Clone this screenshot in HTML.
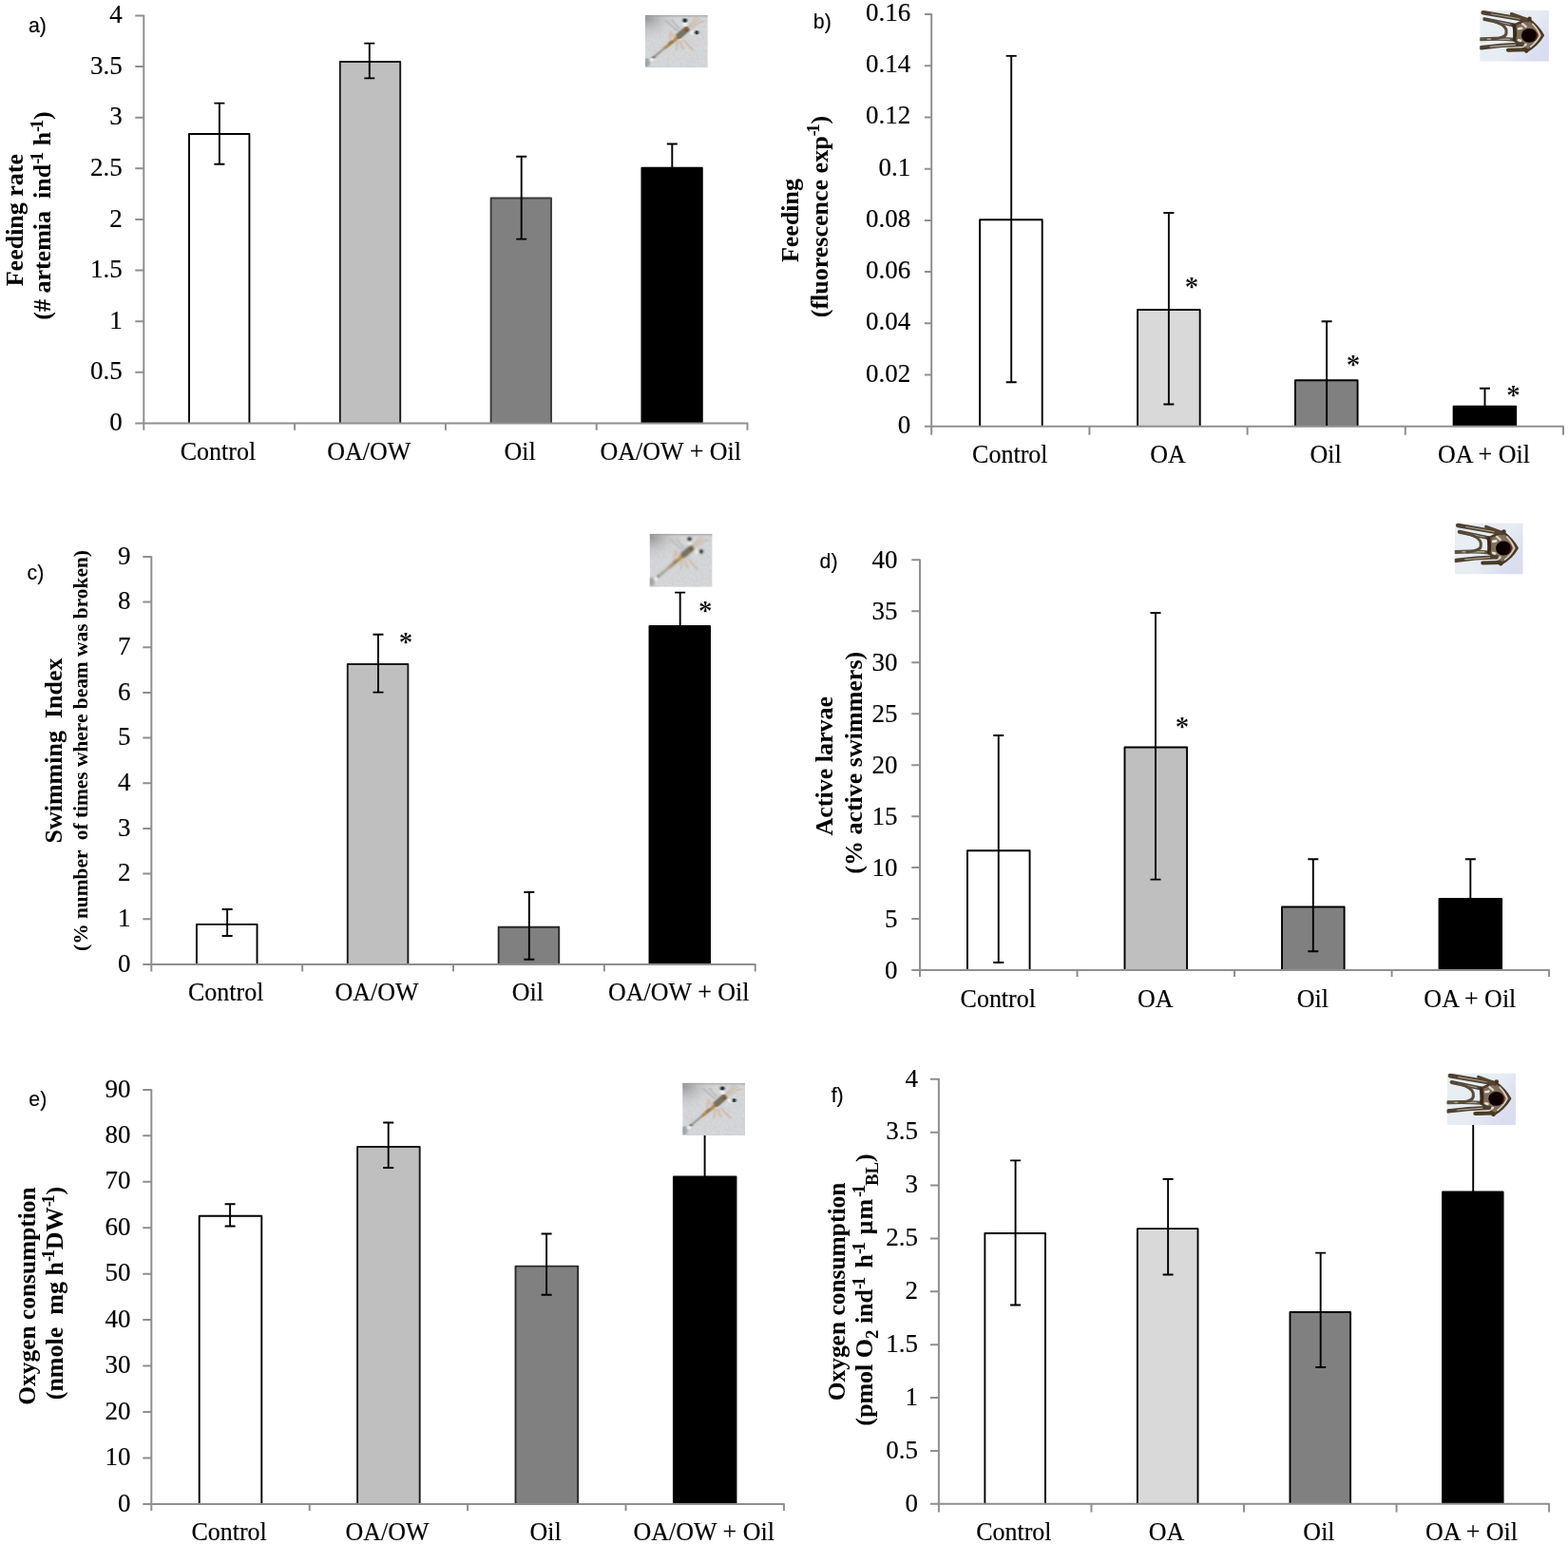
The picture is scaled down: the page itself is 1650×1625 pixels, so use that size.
<!DOCTYPE html>
<html lang="en">
<head>
<meta charset="utf-8">
<title>Figure: feeding, swimming and oxygen consumption</title>
<style>html,body{margin:0;padding:0;background:#fff}body{width:1650px;height:1625px;overflow:hidden}svg{display:block}text{white-space:pre;stroke:#000;stroke-width:0.16px;paint-order:stroke}</style>
</head>
<body>
<svg width="1650" height="1625" viewBox="0 0 1650 1625">
<defs>
<filter id="blur1" x="-10%" y="-10%" width="120%" height="120%"><feGaussianBlur stdDeviation="0.8"/></filter>
<filter id="blur2" x="-10%" y="-10%" width="120%" height="120%"><feGaussianBlur stdDeviation="0.75"/></filter>
<filter id="noise" x="0" y="0" width="100%" height="100%"><feTurbulence type="fractalNoise" baseFrequency="0.35" numOctaves="2" seed="7"/><feColorMatrix type="matrix" values="0 0 0 0 0.55  0 0 0 0 0.56  0 0 0 0 0.58  1.6 0 0 0 -0.55"/><feComposite operator="in" in2="SourceGraphic"/></filter>
<clipPath id="clipsh"><rect x="0" y="0" width="66" height="56"/></clipPath>
<clipPath id="clippl"><rect x="0" y="0" width="72" height="54"/></clipPath>
<linearGradient id="shtex"><stop offset="0" stop-color="#fff"/></linearGradient>
<radialGradient id="shcorner" cx="0" cy="0" r="0.55" gradientUnits="objectBoundingBox"><stop offset="0" stop-color="#7f8183" stop-opacity="0.95"/><stop offset="0.5" stop-color="#a9abad" stop-opacity="0.45"/><stop offset="1" stop-color="#d3d5d7" stop-opacity="0"/></radialGradient>
<linearGradient id="shtop" x1="0" y1="0" x2="0" y2="1"><stop offset="0" stop-color="#8c8e90" stop-opacity="0.75"/><stop offset="1" stop-color="#d3d5d7" stop-opacity="0"/></linearGradient>
<linearGradient id="plbg" x1="0" y1="0" x2="1" y2="0.6"><stop offset="0" stop-color="#e9f0f2"/><stop offset="0.65" stop-color="#e6ecf3"/><stop offset="1" stop-color="#dadcf0"/></linearGradient>
</defs>
<rect x="0" y="0" width="1650" height="1625" fill="#ffffff"/>
<g id="panel-a">
<path d="M199 445.4V140.95H262.4V445.4" fill="#ffffff" stroke="#000" stroke-width="1.9" stroke-linejoin="round"/><path d="M357.8 445.4V64.95H421.2V445.4" fill="#bfbfbf" stroke="#1a1a1a" stroke-width="1.9" stroke-linejoin="round"/><path d="M516.6 445.4V208.45H580V445.4" fill="#808080" stroke="#3a3a3a" stroke-width="1.9" stroke-linejoin="round"/><path d="M675.4 445.4V176.75H738.8V445.4" fill="#000000" stroke="#000" stroke-width="1.9" stroke-linejoin="round"/>
<g stroke="#8f8f8f" stroke-width="2" fill="none"><path d="M151.3 15.8 V446.1" /><path d="M142.3 445.4 H787.2" /><path d="M142.3 391.79H151.3M142.3 338.17H151.3M142.3 284.56H151.3M142.3 230.95H151.3M142.3 177.34H151.3M142.3 123.73H151.3M142.3 70.11H151.3M142.3 16.5H151.3M151.3 445.4V452.8M310.1 445.4V452.8M468.9 445.4V452.8M627.7 445.4V452.8M786.5 445.4V452.8"/></g>
<path d="M230.9 108.6V172.8M225.4 108.6H236.4M225.4 172.8H236.4M388.8 45.6V82.4M383.3 45.6H394.3M383.3 82.4H394.3M548.7 164.8V251.6M543.2 164.8H554.2M543.2 251.6H554.2M707.3 151.5V177.8M701.8 151.5H712.8" stroke="#000" stroke-width="1.9" fill="none"/>
<g font-family='"Liberation Serif", serif' font-size="27" text-anchor="end" fill="#000"><text x="128.7" y="453.1">0</text><text x="128.7" y="399.49">0.5</text><text x="128.7" y="345.87">1</text><text x="128.7" y="292.26">1.5</text><text x="128.7" y="238.65">2</text><text x="128.7" y="185.04">2.5</text><text x="128.7" y="131.43">3</text><text x="128.7" y="77.81">3.5</text><text x="128.7" y="24.2">4</text></g>
<g font-family='"Liberation Serif", serif' font-size="26" text-anchor="middle" fill="#000"><text transform="translate(229.4 483.6) scale(1 1.045)">Control</text><text transform="translate(388.2 483.6) scale(1 1.045)">OA/OW</text><text transform="translate(547 483.6) scale(1 1.045)">Oil</text><text transform="translate(705.8 483.6) scale(1 1.045)">OA/OW + Oil</text></g>
<text x="30" y="33.6" font-family='"Liberation Sans", sans-serif' font-size="21.3" fill="#000">a)</text>
<text transform="translate(23.8 231.6) rotate(-90)" font-family='"Liberation Serif", serif' font-size="26" font-weight="bold" text-anchor="middle" fill="#000" xml:space="preserve" style="stroke-width:0">Feeding rate</text>
<text transform="translate(53.1 227) rotate(-90)" font-family='"Liberation Serif", serif' font-size="26" font-weight="bold" text-anchor="middle" fill="#000" xml:space="preserve" style="stroke-width:0">(# artemia  ind<tspan font-size="18.72" dy="-8.58" letter-spacing="-2.62">-</tspan><tspan font-size="18.72">1</tspan><tspan dy="8.58"> h</tspan><tspan font-size="18.72" dy="-8.58" letter-spacing="-2.62">-</tspan><tspan font-size="18.72">1</tspan><tspan dy="8.58">)</tspan></text>
<g transform="translate(678.8 15.8) scale(1 0.99)" clip-path="url(#clipsh)"><rect x="0" y="0" width="66" height="56" fill="#d6d8da"/><rect x="0" y="0" width="66" height="56" fill="#fff" filter="url(#noise)" opacity="0.6"/><rect x="0" y="0" width="66" height="56" fill="url(#shcorner)"/><rect x="0" y="0" width="66" height="4" fill="url(#shtop)"/><g filter="url(#blur1)" fill="none" stroke-linecap="round"><ellipse cx="2" cy="50.5" rx="3.2" ry="4.5" fill="#8f959c" opacity="0.75"/><path d="M46 12 L54.5 1.5 M49 14 Q56 8 61.5 6.5 M48 12 L57 4" stroke="#c9b79e" stroke-width="1.5" opacity="0.8"/><path d="M34 17 L22 6 M36 14.5 L28 5.5" stroke="#a2a4a2" stroke-width="1.5" opacity="0.7"/><path d="M34 28 L33.5 36.5 M37 28 L40 35.5 M41 27 L50 37" stroke="#cfa78c" stroke-width="1.6" opacity="0.75"/><path d="M31 24 L27 18 Q25.5 22 26.5 28" stroke="#dcb49e" stroke-width="2" opacity="0.8"/><path d="M9 45 L22 34" stroke="#9a9a8e" stroke-width="2.3"/><circle cx="7" cy="47.6" r="1.8" fill="#f6f6f6"/><circle cx="9" cy="45" r="1.5" fill="#77776c"/><path d="M21.5 34.5 L37 22" stroke="#b98c4a" stroke-width="3.4"/><path d="M25.5 30.5 L28.5 28.3" stroke="#85816a" stroke-width="3"/><path d="M32 25.5 L36 22.5" stroke="#c08a30" stroke-width="3"/><path d="M36 22 L43.5 15.5" stroke="#74725f" stroke-width="6.6"/><circle cx="43.8" cy="16" r="1.9" fill="#8a4a22"/><circle cx="42" cy="9.8" r="2.3" fill="#f4f2ec"/><circle cx="50.2" cy="19" r="2.3" fill="#f4f2ec"/><circle cx="42" cy="5.8" r="2.2" fill="#101c22"/><circle cx="54" cy="18.6" r="2.2" fill="#101c22"/></g></g>
</g>
<g id="panel-b">
<path d="M1031.1 448.8V231.25H1096.7V448.8" fill="#ffffff" stroke="#000" stroke-width="1.9" stroke-linejoin="round"/><path d="M1197.1 448.8V326.05H1262.7V448.8" fill="#d9d9d9" stroke="#000" stroke-width="1.9" stroke-linejoin="round"/><path d="M1363 448.8V400.25H1428.6V448.8" fill="#808080" stroke="#000" stroke-width="1.9" stroke-linejoin="round"/><path d="M1529.6 448.8V427.65H1595.2V448.8" fill="#000000" stroke="#000" stroke-width="1.9" stroke-linejoin="round"/>
<g stroke="#8f8f8f" stroke-width="2" fill="none"><path d="M980.2 14.3 V449.5" /><path d="M972.9 448.8 H1645.7" /><path d="M972.9 394.57H980.2M972.9 340.35H980.2M972.9 286.12H980.2M972.9 231.9H980.2M972.9 177.68H980.2M972.9 123.45H980.2M972.9 69.23H980.2M972.9 15H980.2M980.2 448.8V457.7M1146.4 448.8V457.7M1312.6 448.8V457.7M1478.8 448.8V457.7M1645 448.8V457.7"/></g>
<path d="M1064.2 58.9V402.2M1058.7 58.9H1069.7M1058.7 402.2H1069.7M1229.9 224V425.5M1224.4 224H1235.4M1224.4 425.5H1235.4M1396.1 338.2V448M1390.6 338.2H1401.6M1562.5 408.7V428.7M1557 408.7H1568" stroke="#000" stroke-width="1.9" fill="none"/>
<g font-family='"Liberation Serif", serif' font-size="27" text-anchor="end" fill="#000"><text x="958.2" y="455.8">0</text><text x="958.2" y="401.57">0.02</text><text x="958.2" y="347.35">0.04</text><text x="958.2" y="293.12">0.06</text><text x="958.2" y="238.9">0.08</text><text x="958.2" y="184.68">0.1</text><text x="958.2" y="130.45">0.12</text><text x="958.2" y="76.23">0.14</text><text x="958.2" y="22">0.16</text></g>
<g font-family='"Liberation Serif", serif' font-size="26" text-anchor="middle" fill="#000"><text transform="translate(1062.8 486.8) scale(1 1.045)">Control</text><text transform="translate(1229 486.8) scale(1 1.045)">OA</text><text transform="translate(1395.2 486.8) scale(1 1.045)">Oil</text><text transform="translate(1561.4 486.8) scale(1 1.045)">OA + Oil</text></g>
<text x="1254" y="310.6" font-family='"Liberation Serif", serif' font-size="29" font-weight="bold" text-anchor="middle" fill="#000" style="stroke:#fff;stroke-width:0.2px;paint-order:fill stroke">*</text>
<text x="1424" y="393.2" font-family='"Liberation Serif", serif' font-size="29" font-weight="bold" text-anchor="middle" fill="#000" style="stroke:#fff;stroke-width:0.2px;paint-order:fill stroke">*</text>
<text x="1592.6" y="424.6" font-family='"Liberation Serif", serif' font-size="29" font-weight="bold" text-anchor="middle" fill="#000" style="stroke:#fff;stroke-width:0.2px;paint-order:fill stroke">*</text>
<text x="855.8" y="30.3" font-family='"Liberation Sans", sans-serif' font-size="21.3" fill="#000">b)</text>
<text transform="translate(840.4 232) rotate(-90)" font-family='"Liberation Serif", serif' font-size="26" font-weight="bold" text-anchor="middle" fill="#000" xml:space="preserve" style="stroke-width:0">Feeding</text>
<text transform="translate(871 228) rotate(-90)" font-family='"Liberation Serif", serif' font-size="26" font-weight="bold" text-anchor="middle" fill="#000" xml:space="preserve" style="stroke-width:0">(fluorescence exp<tspan font-size="18.72" dy="-8.58" letter-spacing="-2.62">-</tspan><tspan font-size="18.72">1</tspan><tspan dy="8.58">)</tspan></text>
<g transform="translate(1557.2 10.7) scale(1.01 1)" clip-path="url(#clippl)"><rect x="0" y="0" width="72" height="54" fill="url(#plbg)"/><g filter="url(#blur2)" stroke-linecap="round" stroke-linejoin="round" fill="none"><path d="M51 9.5 Q61 17 66 26.5 Q60 37 48.5 43.5 L44 37 L36 32 L35.5 16 L44 12 Z" fill="#7e6e5a" stroke="#4a3a28" stroke-width="2.4"/><path d="M55 14.5 Q60.5 20 62.8 26.5 Q59.5 33.5 53 38.5" stroke="#d6cfc2" stroke-width="1.6"/><path d="M44.5 14.5 L48 17.5 M44.5 38.5 L48 36" stroke="#ddd6ca" stroke-width="2.4"/><path d="M50 10.5 L3.5 2.6" stroke="#4f4132" stroke-width="4.6"/><path d="M42 9.2 L12 4.1" stroke="#a59d8d" stroke-width="1.1"/><path d="M37 16 L5 9.4" stroke="#55463a" stroke-width="4"/><path d="M31 14.8 L13 11.1" stroke="#aaa394" stroke-width="1"/><path d="M48 9.5 L33 4" stroke="#56452f" stroke-width="3.4"/><path d="M36 31 Q20 29.5 1 30.5" stroke="#5e5444" stroke-width="4"/><path d="M31 30.5 L8 30.4" stroke="#bdb7aa" stroke-width="1.1"/><path d="M44 36 Q22 36.5 1.5 39.5" stroke="#4f4132" stroke-width="4.4"/><path d="M37 36.4 L11 38.4" stroke="#b3ad9f" stroke-width="1.1"/><path d="M48 41.5 L29.5 42" stroke="#4a3a28" stroke-width="4"/><circle cx="51.8" cy="9" r="2.2" fill="#46341f"/><circle cx="48.5" cy="42.8" r="2.2" fill="#46341f"/><path d="M14 11.5 Q29 16 27.5 23.5 Q28.5 29 13 30.5" stroke="#5a4c3a" stroke-width="3"/><path d="M35.5 16 Q37.8 24 36 31" stroke="#3a2c1c" stroke-width="3.6"/><path d="M40.5 19.5 L43.5 19 M40.5 31.5 L42.5 32" stroke="#e8e2d8" stroke-width="2.6"/><ellipse cx="51.5" cy="26.6" rx="8.2" ry="7.4" fill="#0a0201" stroke="none"/><path d="M58.8 24 Q60.2 27 57.8 31" stroke="#5a1208" stroke-width="1.6"/></g></g>
</g>
<g id="panel-c">
<path d="M206.93 1014.9V972.85H270.53V1014.9" fill="#ffffff" stroke="#000" stroke-width="1.9" stroke-linejoin="round"/><path d="M365.78 1014.9V698.95H429.38V1014.9" fill="#bfbfbf" stroke="#1a1a1a" stroke-width="1.9" stroke-linejoin="round"/><path d="M524.63 1014.9V975.75H588.23V1014.9" fill="#808080" stroke="#2a2a2a" stroke-width="1.9" stroke-linejoin="round"/><path d="M683.48 1014.9V658.95H747.08V1014.9" fill="#000000" stroke="#000" stroke-width="1.9" stroke-linejoin="round"/>
<g stroke="#8f8f8f" stroke-width="2" fill="none"><path d="M159.3 585.2 V1015.6" /><path d="M150.3 1014.9 H795.4" /><path d="M150.3 967.23H159.3M150.3 919.57H159.3M150.3 871.9H159.3M150.3 824.23H159.3M150.3 776.57H159.3M150.3 728.9H159.3M150.3 681.23H159.3M150.3 633.57H159.3M150.3 585.9H159.3M159.3 1014.9V1022.5M318.15 1014.9V1022.5M477 1014.9V1022.5M635.85 1014.9V1022.5M794.7 1014.9V1022.5"/></g>
<path d="M239.13 957V985M233.63 957H244.63M233.63 985H244.63M397.98 667.8V728.6M392.48 667.8H403.48M392.48 728.6H403.48M556.83 939V1009.7M551.33 939H562.33M551.33 1009.7H562.33M715.68 623.6V660M710.18 623.6H721.18" stroke="#000" stroke-width="1.9" fill="none"/>
<g font-family='"Liberation Serif", serif' font-size="27" text-anchor="end" fill="#000"><text x="137.4" y="1022.6">0</text><text x="137.4" y="974.93">1</text><text x="137.4" y="927.27">2</text><text x="137.4" y="879.6">3</text><text x="137.4" y="831.93">4</text><text x="137.4" y="784.27">5</text><text x="137.4" y="736.6">6</text><text x="137.4" y="688.93">7</text><text x="137.4" y="641.27">8</text><text x="137.4" y="593.6">9</text></g>
<g font-family='"Liberation Serif", serif' font-size="26" text-anchor="middle" fill="#000"><text transform="translate(237.73 1052.6) scale(1 1.045)">Control</text><text transform="translate(396.58 1052.6) scale(1 1.045)">OA/OW</text><text transform="translate(555.43 1052.6) scale(1 1.045)">Oil</text><text transform="translate(714.28 1052.6) scale(1 1.045)">OA/OW + Oil</text></g>
<text x="426.9" y="685.3" font-family='"Liberation Serif", serif' font-size="29" font-weight="bold" text-anchor="middle" fill="#000" style="stroke:#fff;stroke-width:0.2px;paint-order:fill stroke">*</text>
<text x="742.3" y="652.4" font-family='"Liberation Serif", serif' font-size="29" font-weight="bold" text-anchor="middle" fill="#000" style="stroke:#fff;stroke-width:0.2px;paint-order:fill stroke">*</text>
<text x="28.6" y="609.6" font-family='"Liberation Sans", sans-serif' font-size="21.3" fill="#000">c)</text>
<text transform="translate(65 790) rotate(-90)" font-family='"Liberation Serif", serif' font-size="26" font-weight="bold" text-anchor="middle" fill="#000" xml:space="preserve" style="stroke-width:0">Swimming  Index</text>
<text transform="translate(92 790) rotate(-90)" font-family='"Liberation Serif", serif' font-size="21.4" font-weight="bold" text-anchor="middle" fill="#000" xml:space="preserve" style="stroke-width:0">(% number  of times where beam was broken)</text>
<g transform="translate(683.6 561.8) scale(1 1)" clip-path="url(#clipsh)"><rect x="0" y="0" width="66" height="56" fill="#d6d8da"/><rect x="0" y="0" width="66" height="56" fill="#fff" filter="url(#noise)" opacity="0.6"/><rect x="0" y="0" width="66" height="56" fill="url(#shcorner)"/><rect x="0" y="0" width="66" height="4" fill="url(#shtop)"/><g filter="url(#blur1)" fill="none" stroke-linecap="round"><ellipse cx="2" cy="50.5" rx="3.2" ry="4.5" fill="#8f959c" opacity="0.75"/><path d="M46 12 L54.5 1.5 M49 14 Q56 8 61.5 6.5 M48 12 L57 4" stroke="#c9b79e" stroke-width="1.5" opacity="0.8"/><path d="M34 17 L22 6 M36 14.5 L28 5.5" stroke="#a2a4a2" stroke-width="1.5" opacity="0.7"/><path d="M34 28 L33.5 36.5 M37 28 L40 35.5 M41 27 L50 37" stroke="#cfa78c" stroke-width="1.6" opacity="0.75"/><path d="M31 24 L27 18 Q25.5 22 26.5 28" stroke="#dcb49e" stroke-width="2" opacity="0.8"/><path d="M9 45 L22 34" stroke="#9a9a8e" stroke-width="2.3"/><circle cx="7" cy="47.6" r="1.8" fill="#f6f6f6"/><circle cx="9" cy="45" r="1.5" fill="#77776c"/><path d="M21.5 34.5 L37 22" stroke="#b98c4a" stroke-width="3.4"/><path d="M25.5 30.5 L28.5 28.3" stroke="#85816a" stroke-width="3"/><path d="M32 25.5 L36 22.5" stroke="#c08a30" stroke-width="3"/><path d="M36 22 L43.5 15.5" stroke="#74725f" stroke-width="6.6"/><circle cx="43.8" cy="16" r="1.9" fill="#8a4a22"/><circle cx="42" cy="9.8" r="2.3" fill="#f4f2ec"/><circle cx="50.2" cy="19" r="2.3" fill="#f4f2ec"/><circle cx="42" cy="5.8" r="2.2" fill="#101c22"/><circle cx="54" cy="18.6" r="2.2" fill="#101c22"/></g></g>
</g>
<g id="panel-d">
<path d="M1017.96 1021.1V895.25H1083.56V1021.1" fill="#ffffff" stroke="#000" stroke-width="1.9" stroke-linejoin="round"/><path d="M1183.49 1021.1V786.45H1249.09V1021.1" fill="#bfbfbf" stroke="#000" stroke-width="1.9" stroke-linejoin="round"/><path d="M1349.01 1021.1V954.45H1414.61V1021.1" fill="#808080" stroke="#000" stroke-width="1.9" stroke-linejoin="round"/><path d="M1514.54 1021.1V945.95H1580.14V1021.1" fill="#000000" stroke="#000" stroke-width="1.9" stroke-linejoin="round"/>
<g stroke="#8f8f8f" stroke-width="2" fill="none"><path d="M968 588.5 V1021.8" /><path d="M959.3 1021.1 H1630.8" /><path d="M959.3 967.11H968M959.3 913.12H968M959.3 859.14H968M959.3 805.15H968M959.3 751.16H968M959.3 697.18H968M959.3 643.19H968M959.3 589.2H968M968 1021.1V1028.1M1133.53 1021.1V1028.1M1299.05 1021.1V1028.1M1464.57 1021.1V1028.1M1630.1 1021.1V1028.1"/></g>
<path d="M1050.76 774V1013M1045.26 774H1056.26M1045.26 1013H1056.26M1215.99 645V925.6M1210.49 645H1221.49M1210.49 925.6H1221.49M1381.81 904.2V1001.2M1376.31 904.2H1387.31M1376.31 1001.2H1387.31M1547.34 904.2V947M1541.84 904.2H1552.84" stroke="#000" stroke-width="1.9" fill="none"/>
<g font-family='"Liberation Serif", serif' font-size="27" text-anchor="end" fill="#000"><text x="944.5" y="1029.7">0</text><text x="944.5" y="975.71">5</text><text x="944.5" y="921.73">10</text><text x="944.5" y="867.74">15</text><text x="944.5" y="813.75">20</text><text x="944.5" y="759.76">25</text><text x="944.5" y="705.78">30</text><text x="944.5" y="651.79">35</text><text x="944.5" y="597.8">40</text></g>
<g font-family='"Liberation Serif", serif' font-size="26" text-anchor="middle" fill="#000"><text transform="translate(1050.26 1060) scale(1 1.045)">Control</text><text transform="translate(1215.79 1060) scale(1 1.045)">OA</text><text transform="translate(1381.31 1060) scale(1 1.045)">Oil</text><text transform="translate(1546.84 1060) scale(1 1.045)">OA + Oil</text></g>
<text x="1244.1" y="774.4" font-family='"Liberation Serif", serif' font-size="29" font-weight="bold" text-anchor="middle" fill="#000" style="stroke:#fff;stroke-width:0.2px;paint-order:fill stroke">*</text>
<text x="862.6" y="597.5" font-family='"Liberation Sans", sans-serif' font-size="21.3" fill="#000">d)</text>
<text transform="translate(876.4 806.3) rotate(-90)" font-family='"Liberation Serif", serif' font-size="26" font-weight="bold" text-anchor="middle" fill="#000" xml:space="preserve" style="stroke-width:0">Active larvae</text>
<text transform="translate(907.4 802.8) rotate(-90)" font-family='"Liberation Serif", serif' font-size="26" font-weight="bold" text-anchor="middle" fill="#000" xml:space="preserve" style="stroke-width:0">(% active swimmers)</text>
<g transform="translate(1530.7 550.4) scale(1 1)" clip-path="url(#clippl)"><rect x="0" y="0" width="72" height="54" fill="url(#plbg)"/><g filter="url(#blur2)" stroke-linecap="round" stroke-linejoin="round" fill="none"><path d="M51 9.5 Q61 17 66 26.5 Q60 37 48.5 43.5 L44 37 L36 32 L35.5 16 L44 12 Z" fill="#7e6e5a" stroke="#4a3a28" stroke-width="2.4"/><path d="M55 14.5 Q60.5 20 62.8 26.5 Q59.5 33.5 53 38.5" stroke="#d6cfc2" stroke-width="1.6"/><path d="M44.5 14.5 L48 17.5 M44.5 38.5 L48 36" stroke="#ddd6ca" stroke-width="2.4"/><path d="M50 10.5 L3.5 2.6" stroke="#4f4132" stroke-width="4.6"/><path d="M42 9.2 L12 4.1" stroke="#a59d8d" stroke-width="1.1"/><path d="M37 16 L5 9.4" stroke="#55463a" stroke-width="4"/><path d="M31 14.8 L13 11.1" stroke="#aaa394" stroke-width="1"/><path d="M48 9.5 L33 4" stroke="#56452f" stroke-width="3.4"/><path d="M36 31 Q20 29.5 1 30.5" stroke="#5e5444" stroke-width="4"/><path d="M31 30.5 L8 30.4" stroke="#bdb7aa" stroke-width="1.1"/><path d="M44 36 Q22 36.5 1.5 39.5" stroke="#4f4132" stroke-width="4.4"/><path d="M37 36.4 L11 38.4" stroke="#b3ad9f" stroke-width="1.1"/><path d="M48 41.5 L29.5 42" stroke="#4a3a28" stroke-width="4"/><circle cx="51.8" cy="9" r="2.2" fill="#46341f"/><circle cx="48.5" cy="42.8" r="2.2" fill="#46341f"/><path d="M14 11.5 Q29 16 27.5 23.5 Q28.5 29 13 30.5" stroke="#5a4c3a" stroke-width="3"/><path d="M35.5 16 Q37.8 24 36 31" stroke="#3a2c1c" stroke-width="3.6"/><path d="M40.5 19.5 L43.5 19 M40.5 31.5 L42.5 32" stroke="#e8e2d8" stroke-width="2.6"/><ellipse cx="51.5" cy="26.6" rx="8.2" ry="7.4" fill="#0a0201" stroke="none"/><path d="M58.8 24 Q60.2 27 57.8 31" stroke="#5a1208" stroke-width="1.6"/></g></g>
</g>
<g id="panel-e">
<path d="M209.7 1582.9V1279.75H275.3V1582.9" fill="#ffffff" stroke="#000" stroke-width="1.9" stroke-linejoin="round"/><path d="M376.1 1582.9V1207.05H441.7V1582.9" fill="#bfbfbf" stroke="#1a1a1a" stroke-width="1.9" stroke-linejoin="round"/><path d="M542.5 1582.9V1332.65H608.1V1582.9" fill="#808080" stroke="#2a2a2a" stroke-width="1.9" stroke-linejoin="round"/><path d="M708.9 1582.9V1238.35H774.5V1582.9" fill="#000000" stroke="#000" stroke-width="1.9" stroke-linejoin="round"/>
<g stroke="#8f8f8f" stroke-width="2" fill="none"><path d="M159.3 1146.2 V1583.6" /><path d="M150.3 1582.9 H825.6" /><path d="M150.3 1534.46H159.3M150.3 1486.01H159.3M150.3 1437.57H159.3M150.3 1389.12H159.3M150.3 1340.68H159.3M150.3 1292.23H159.3M150.3 1243.79H159.3M150.3 1195.34H159.3M150.3 1146.9H159.3M159.3 1582.9V1589.9M325.7 1582.9V1589.9M492.1 1582.9V1589.9M658.5 1582.9V1589.9M824.9 1582.9V1589.9"/></g>
<path d="M242.1 1267.2V1290.5M236.6 1267.2H247.6M236.6 1290.5H247.6M408.7 1181.5V1229M403.2 1181.5H414.2M403.2 1229H414.2M575.1 1298.5V1362.7M569.6 1298.5H580.6M569.6 1362.7H580.6M741.6 1190V1239.4" stroke="#000" stroke-width="1.9" fill="none"/>
<g font-family='"Liberation Serif", serif' font-size="27" text-anchor="end" fill="#000"><text x="137.4" y="1590.6">0</text><text x="137.4" y="1542.16">10</text><text x="137.4" y="1493.71">20</text><text x="137.4" y="1445.27">30</text><text x="137.4" y="1396.82">40</text><text x="137.4" y="1348.38">50</text><text x="137.4" y="1299.93">60</text><text x="137.4" y="1251.49">70</text><text x="137.4" y="1203.04">80</text><text x="137.4" y="1154.6">90</text></g>
<g font-family='"Liberation Serif", serif' font-size="26" text-anchor="middle" fill="#000"><text transform="translate(241.1 1621.4) scale(1 1.045)">Control</text><text transform="translate(407.6 1621.4) scale(1 1.045)">OA/OW</text><text transform="translate(574.2 1621.4) scale(1 1.045)">Oil</text><text transform="translate(740.7 1621.4) scale(1 1.045)">OA/OW + Oil</text></g>
<text x="30.3" y="1163.9" font-family='"Liberation Sans", sans-serif' font-size="21.3" fill="#000">e)</text>
<text transform="translate(36.5 1364) rotate(-90)" font-family='"Liberation Serif", serif' font-size="25.4" font-weight="bold" text-anchor="middle" fill="#000" xml:space="preserve" style="stroke-width:0">Oxygen consumption</text>
<text transform="translate(65.5 1361) rotate(-90)" font-family='"Liberation Serif", serif' font-size="26" font-weight="bold" text-anchor="middle" fill="#000" xml:space="preserve" style="stroke-width:0">(nmole  mg h<tspan font-size="18.72" dy="-8.58" letter-spacing="-2.62">-</tspan><tspan font-size="18.72">1</tspan><tspan dy="8.58">DW</tspan><tspan font-size="18.72" dy="-8.58" letter-spacing="-2.62">-</tspan><tspan font-size="18.72">1</tspan><tspan dy="8.58">)</tspan></text>
<g transform="translate(718.2 1139.7) scale(1 0.99)" clip-path="url(#clipsh)"><rect x="0" y="0" width="66" height="56" fill="#d6d8da"/><rect x="0" y="0" width="66" height="56" fill="#fff" filter="url(#noise)" opacity="0.6"/><rect x="0" y="0" width="66" height="56" fill="url(#shcorner)"/><rect x="0" y="0" width="66" height="4" fill="url(#shtop)"/><g filter="url(#blur1)" fill="none" stroke-linecap="round"><ellipse cx="2" cy="50.5" rx="3.2" ry="4.5" fill="#8f959c" opacity="0.75"/><path d="M46 12 L54.5 1.5 M49 14 Q56 8 61.5 6.5 M48 12 L57 4" stroke="#c9b79e" stroke-width="1.5" opacity="0.8"/><path d="M34 17 L22 6 M36 14.5 L28 5.5" stroke="#a2a4a2" stroke-width="1.5" opacity="0.7"/><path d="M34 28 L33.5 36.5 M37 28 L40 35.5 M41 27 L50 37" stroke="#cfa78c" stroke-width="1.6" opacity="0.75"/><path d="M31 24 L27 18 Q25.5 22 26.5 28" stroke="#dcb49e" stroke-width="2" opacity="0.8"/><path d="M9 45 L22 34" stroke="#9a9a8e" stroke-width="2.3"/><circle cx="7" cy="47.6" r="1.8" fill="#f6f6f6"/><circle cx="9" cy="45" r="1.5" fill="#77776c"/><path d="M21.5 34.5 L37 22" stroke="#b98c4a" stroke-width="3.4"/><path d="M25.5 30.5 L28.5 28.3" stroke="#85816a" stroke-width="3"/><path d="M32 25.5 L36 22.5" stroke="#c08a30" stroke-width="3"/><path d="M36 22 L43.5 15.5" stroke="#74725f" stroke-width="6.6"/><circle cx="43.8" cy="16" r="1.9" fill="#8a4a22"/><circle cx="42" cy="9.8" r="2.3" fill="#f4f2ec"/><circle cx="50.2" cy="19" r="2.3" fill="#f4f2ec"/><circle cx="42" cy="5.8" r="2.2" fill="#101c22"/><circle cx="54" cy="18.6" r="2.2" fill="#101c22"/></g></g>
</g>
<g id="panel-f">
<path d="M1036.38 1582.8V1297.95H1099.97V1582.8" fill="#ffffff" stroke="#000" stroke-width="1.9" stroke-linejoin="round"/><path d="M1196.92 1582.8V1293.15H1260.52V1582.8" fill="#d9d9d9" stroke="#000" stroke-width="1.9" stroke-linejoin="round"/><path d="M1357.47 1582.8V1380.95H1421.07V1582.8" fill="#808080" stroke="#000" stroke-width="1.9" stroke-linejoin="round"/><path d="M1518.02 1582.8V1254.55H1581.62V1582.8" fill="#000000" stroke="#000" stroke-width="1.9" stroke-linejoin="round"/>
<g stroke="#8f8f8f" stroke-width="2" fill="none"><path d="M987.9 1135.1 V1583.5" /><path d="M978.9 1582.8 H1630.8" /><path d="M978.9 1526.92H987.9M978.9 1471.05H987.9M978.9 1415.17H987.9M978.9 1359.3H987.9M978.9 1303.42H987.9M978.9 1247.55H987.9M978.9 1191.67H987.9M978.9 1135.8H987.9M987.9 1582.8V1591.4M1148.45 1582.8V1591.4M1309 1582.8V1591.4M1469.55 1582.8V1591.4M1630.1 1582.8V1591.4"/></g>
<path d="M1068.58 1221.4V1373.5M1063.08 1221.4H1074.08M1063.08 1373.5H1074.08M1229.12 1241V1341.5M1223.62 1241H1234.62M1223.62 1341.5H1234.62M1389.67 1318.6V1439M1384.17 1318.6H1395.17M1384.17 1439H1395.17M1550.22 1180V1255.6" stroke="#000" stroke-width="1.9" fill="none"/>
<g font-family='"Liberation Serif", serif' font-size="27" text-anchor="end" fill="#000"><text x="965.9" y="1590.5">0</text><text x="965.9" y="1534.62">0.5</text><text x="965.9" y="1478.75">1</text><text x="965.9" y="1422.88">1.5</text><text x="965.9" y="1367">2</text><text x="965.9" y="1311.12">2.5</text><text x="965.9" y="1255.25">3</text><text x="965.9" y="1199.38">3.5</text><text x="965.9" y="1143.5">4</text></g>
<g font-family='"Liberation Serif", serif' font-size="26" text-anchor="middle" fill="#000"><text transform="translate(1066.88 1620.8) scale(1 1.045)">Control</text><text transform="translate(1227.42 1620.8) scale(1 1.045)">OA</text><text transform="translate(1387.97 1620.8) scale(1 1.045)">Oil</text><text transform="translate(1548.52 1620.8) scale(1 1.045)">OA + Oil</text></g>
<text x="874.7" y="1159.5" font-family='"Liberation Sans", sans-serif' font-size="21.3" fill="#000">f)</text>
<text transform="translate(889.2 1359.5) rotate(-90)" font-family='"Liberation Serif", serif' font-size="25.45" font-weight="bold" text-anchor="middle" fill="#000" xml:space="preserve" style="stroke-width:0">Oxygen consumption</text>
<text transform="translate(918.3 1357.5) rotate(-90)" font-family='"Liberation Serif", serif' font-size="26" font-weight="bold" text-anchor="middle" fill="#000" xml:space="preserve" style="stroke-width:0">(pmol O<tspan font-size="18.72" dy="5.2">2</tspan><tspan dy="-5.2"> ind</tspan><tspan font-size="18.72" dy="-8.58" letter-spacing="-2.62">-</tspan><tspan font-size="18.72">1</tspan><tspan dy="8.58" dx="3"> h</tspan><tspan font-size="18.72" dy="-8.58" letter-spacing="-2.62">-</tspan><tspan font-size="18.72">1</tspan><tspan dy="8.58" dx="1"> µ</tspan><tspan dx="1">m</tspan><tspan font-size="18.72" dy="-8.58" dx="2" letter-spacing="-2.62">-</tspan><tspan font-size="18.72">1</tspan><tspan font-size="18.72" dy="13.78" dx="-1">BL</tspan><tspan dy="-5.2">)</tspan></text>
<g transform="translate(1522.5 1129.5) scale(1.01 1.01)" clip-path="url(#clippl)"><rect x="0" y="0" width="72" height="54" fill="url(#plbg)"/><g filter="url(#blur2)" stroke-linecap="round" stroke-linejoin="round" fill="none"><path d="M51 9.5 Q61 17 66 26.5 Q60 37 48.5 43.5 L44 37 L36 32 L35.5 16 L44 12 Z" fill="#7e6e5a" stroke="#4a3a28" stroke-width="2.4"/><path d="M55 14.5 Q60.5 20 62.8 26.5 Q59.5 33.5 53 38.5" stroke="#d6cfc2" stroke-width="1.6"/><path d="M44.5 14.5 L48 17.5 M44.5 38.5 L48 36" stroke="#ddd6ca" stroke-width="2.4"/><path d="M50 10.5 L3.5 2.6" stroke="#4f4132" stroke-width="4.6"/><path d="M42 9.2 L12 4.1" stroke="#a59d8d" stroke-width="1.1"/><path d="M37 16 L5 9.4" stroke="#55463a" stroke-width="4"/><path d="M31 14.8 L13 11.1" stroke="#aaa394" stroke-width="1"/><path d="M48 9.5 L33 4" stroke="#56452f" stroke-width="3.4"/><path d="M36 31 Q20 29.5 1 30.5" stroke="#5e5444" stroke-width="4"/><path d="M31 30.5 L8 30.4" stroke="#bdb7aa" stroke-width="1.1"/><path d="M44 36 Q22 36.5 1.5 39.5" stroke="#4f4132" stroke-width="4.4"/><path d="M37 36.4 L11 38.4" stroke="#b3ad9f" stroke-width="1.1"/><path d="M48 41.5 L29.5 42" stroke="#4a3a28" stroke-width="4"/><circle cx="51.8" cy="9" r="2.2" fill="#46341f"/><circle cx="48.5" cy="42.8" r="2.2" fill="#46341f"/><path d="M14 11.5 Q29 16 27.5 23.5 Q28.5 29 13 30.5" stroke="#5a4c3a" stroke-width="3"/><path d="M35.5 16 Q37.8 24 36 31" stroke="#3a2c1c" stroke-width="3.6"/><path d="M40.5 19.5 L43.5 19 M40.5 31.5 L42.5 32" stroke="#e8e2d8" stroke-width="2.6"/><ellipse cx="51.5" cy="26.6" rx="8.2" ry="7.4" fill="#0a0201" stroke="none"/><path d="M58.8 24 Q60.2 27 57.8 31" stroke="#5a1208" stroke-width="1.6"/></g></g>
</g>
</svg>
</body></html>
